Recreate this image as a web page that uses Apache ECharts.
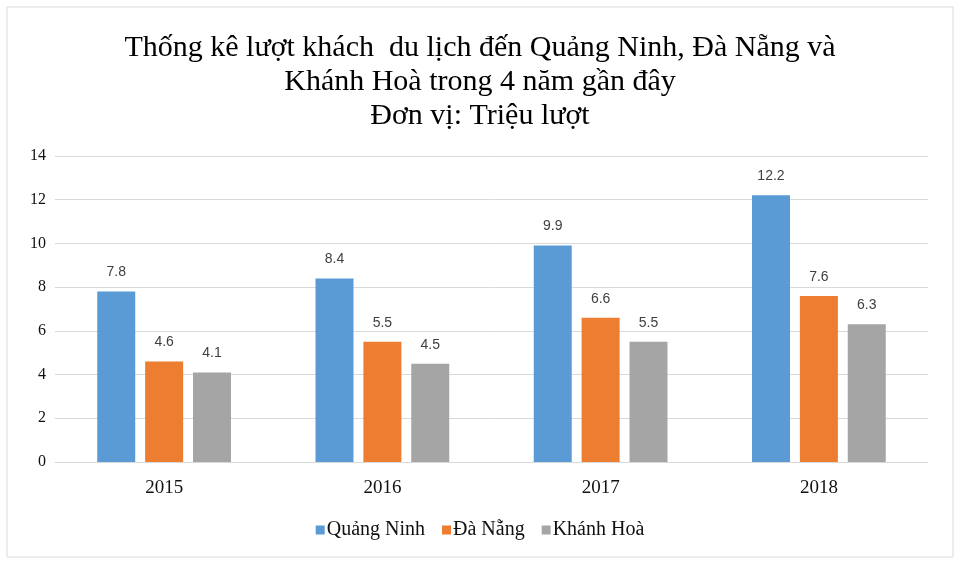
<!DOCTYPE html>
<html>
<head>
<meta charset="utf-8">
<script src="https://cdn.jsdelivr.net/npm/echarts@6/dist/echarts.min.js"></script>
<style>
  html, body { margin: 0; padding: 0; background: #fff; }
  #container { width: 960px; height: 566px; }
</style>
</head>
<body>
<div id="container"></div>
<script>
const years = ["2015", "2016", "2017", "2018"];
const quangNinh = [7.8, 8.4, 9.9, 12.2];
const daNang = [4.6, 5.5, 6.6, 7.6];
const khanhHoa = [4.1, 4.5, 5.5, 6.3];

const serif = "'Liberation Serif', 'Times New Roman', serif";

function bar(name, data, color) {
  return {
    name: name,
    type: "bar",
    data: data,
    barWidth: 38,
    barGap: "26%",
    itemStyle: { color: color },
    label: {
      show: true,
      position: "top",
      distance: 12,
      fontFamily: "'Liberation Sans', Arial, sans-serif",
      fontSize: 14,
      color: "#404040"
    }
  };
}

let dom = document.getElementById("container");
let myChart = echarts.init(dom, null, { renderer: "canvas" });

let option = {
  animation: false,
  title: {
    text: "Thống kê lượt khách  du lịch đến Quảng Ninh, Đà Nẵng và\nKhánh Hoà trong 4 năm gần đây\nĐơn vị: Triệu lượt",
    left: "center",
    top: 26,
    textStyle: {
      fontFamily: serif,
      fontSize: 30,
      lineHeight: 34,
      fontWeight: "normal",
      color: "#000"
    }
  },
  graphic: [
    {
      type: "rect",
      shape: { x: 7, y: 7, width: 946, height: 550 },
      style: { fill: "none", stroke: "#d9d9d9", lineWidth: 1 },
      silent: true
    }
  ],
  legend: {
    top: 515,
    left: "center",
    itemWidth: 9,
    itemHeight: 9,
    itemGap: 17,
    icon: "rect",
    textStyle: { fontFamily: serif, fontSize: 20, color: "#111", padding: [0, 0, 0, -3] }
  },
  grid: { left: 55, right: 32, top: 156, bottom: 104 },
  xAxis: {
    type: "category",
    data: years,
    axisLine: { lineStyle: { color: "#d9d9d9" } },
    axisTick: { show: false },
    axisLabel: { fontFamily: serif, fontSize: 19, color: "#111", margin: 17 }
  },
  yAxis: {
    type: "value",
    min: 0,
    max: 14,
    interval: 2,
    axisLine: { show: false },
    axisTick: { show: false },
    splitLine: { lineStyle: { color: "#d9d9d9" } },
    axisLabel: { fontFamily: serif, fontSize: 16, color: "#111", margin: 9 }
  },
  series: [
    bar("Quảng Ninh", quangNinh, "#5b9bd5"),
    bar("Đà Nẵng", daNang, "#ed7d31"),
    bar("Khánh Hoà", khanhHoa, "#a5a5a5")
  ]
};

myChart.setOption(option);
window.addEventListener("resize", myChart.resize);
</script>
</body>
</html>
